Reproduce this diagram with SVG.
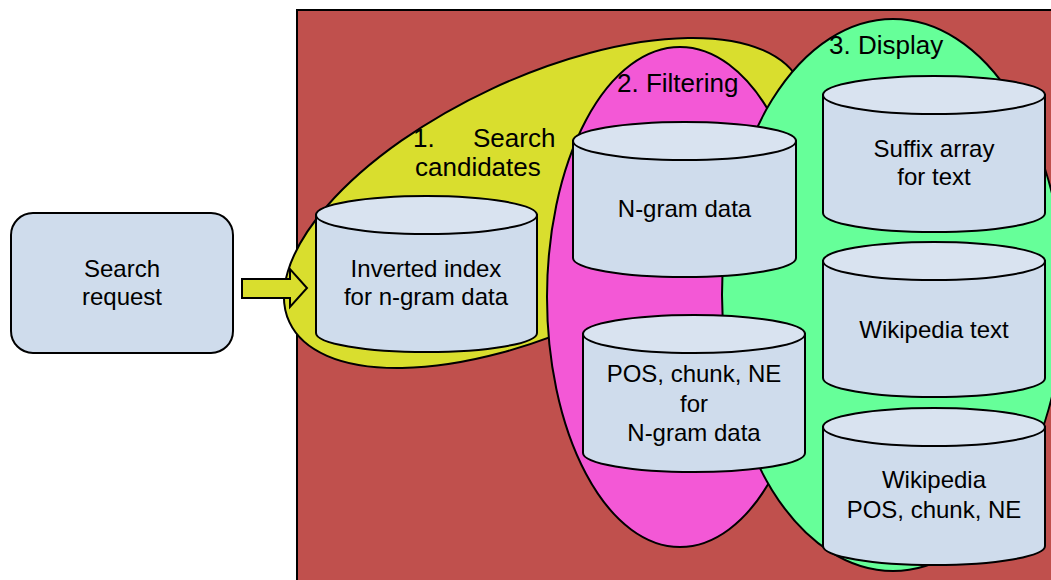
<svg xmlns="http://www.w3.org/2000/svg" width="1051" height="580" viewBox="0 0 1051 580">
<style>
.t{font-family:"Liberation Sans",Arial,sans-serif;font-size:24px;fill:#000;text-anchor:middle}
.h{font-family:"Liberation Sans",Arial,sans-serif;font-size:26px;fill:#000}
.body{fill:#cfdcec;stroke:#000;stroke-width:2}
.top{fill:#d9e3f0;stroke:#000;stroke-width:2}
.reg{stroke:#000;stroke-width:2}
</style>
<rect x="297" y="10" width="770" height="590" fill="#c0504d" stroke="#000" stroke-width="2"/>
<g id="regions">
<ellipse class="reg" cx="545" cy="203" rx="282" ry="126" fill="#d9de2e" transform="rotate(-25 545 203)"/>
<ellipse class="reg" cx="680" cy="297" rx="133" ry="250" fill="#f358d6"/>
<ellipse class="reg" cx="893" cy="295" rx="171" ry="276" fill="#66ff99"/>
</g>
<g id="labels">
<text class="h" x="413" y="147">1.</text>
<text class="h" x="473" y="147">Search</text>
<text class="h" x="415" y="176">candidates</text>
<text class="h" x="617" y="92">2. Filtering</text>
<text class="h" x="829" y="54">3. Display</text>
</g>
<g id="search-request">
<rect x="11" y="213" width="222" height="140" rx="22" fill="#cfdcec" stroke="#000" stroke-width="2"/>
<text class="t" x="122" y="277">Search</text>
<text class="t" x="122" y="305">request</text>
</g>
<g id="connectors">
<path d="M242,279 H290 V269 L307,288 L290,307 V298 H242 Z" fill="#d9de2e" stroke="#000" stroke-width="2"/>
</g>
<g id="inverted-index">
<path class="body" d="M316,215 V333 A110.5,19 0 0 0 537,333 V215 Z"/>
<ellipse class="top" cx="426.5" cy="215" rx="110.5" ry="19"/>
<text class="t" x="426" y="277">Inverted index</text>
<text class="t" x="426" y="305">for n-gram data</text>
</g>
<g id="ngram-data">
<path class="body" d="M573,141 V258 A111.5,19 0 0 0 796,258 V141 Z"/>
<ellipse class="top" cx="684.5" cy="141" rx="111.5" ry="19"/>
<text class="t" x="684.5" y="217">N-gram data</text>
</g>
<g id="pos-ngram">
<path class="body" d="M583,334 V453 A111,19 0 0 0 805,453 V334 Z"/>
<ellipse class="top" cx="694" cy="334" rx="111" ry="19"/>
<text class="t" x="694" y="382">POS, chunk, NE</text>
<text class="t" x="694" y="412">for</text>
<text class="t" x="694" y="441">N-gram data</text>
</g>
<g id="suffix-array">
<path class="body" d="M823,95 V213 A111,19 0 0 0 1045,213 V95 Z"/>
<ellipse class="top" cx="934" cy="95" rx="111" ry="19"/>
<text class="t" x="934" y="157">Suffix array</text>
<text class="t" x="934" y="185">for text</text>
</g>
<g id="wikipedia-text">
<path class="body" d="M823,261 V378 A111,19 0 0 0 1045,378 V261 Z"/>
<ellipse class="top" cx="934" cy="261" rx="111" ry="19"/>
<text class="t" x="934" y="338">Wikipedia text</text>
</g>
<g id="wikipedia-pos">
<path class="body" d="M823,427 V546 A111,19 0 0 0 1045,546 V427 Z"/>
<ellipse class="top" cx="934" cy="427" rx="111" ry="19"/>
<text class="t" x="934" y="488">Wikipedia</text>
<text class="t" x="934" y="518">POS, chunk, NE</text>
</g>
</svg>
